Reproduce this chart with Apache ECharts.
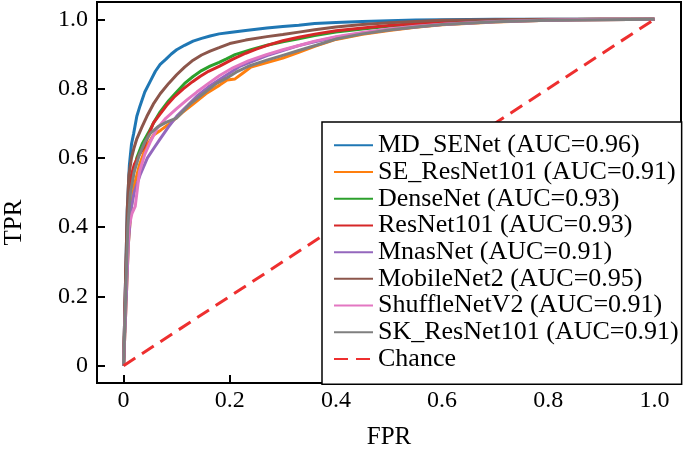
<!DOCTYPE html>
<html>
<head>
<meta charset="utf-8">
<script src="https://cdn.jsdelivr.net/npm/echarts@6/dist/echarts.min.js"></script>
<style>
html,body{margin:0;padding:0;background:#fff;}
#chart{width:685px;height:449px;}
</style>
</head>
<body>
<div id="chart"></div>
<script>
const tickValues = [0, 0.2, 0.4, 0.6, 0.8, 1.0];
const seriesNames = ['MD_SENet (AUC=0.96)', 'SE_ResNet101 (AUC=0.91)', 'DenseNet (AUC=0.93)', 'ResNet101 (AUC=0.93)', 'MnasNet (AUC=0.91)', 'MobileNet2 (AUC=0.95)', 'ShuffleNetV2 (AUC=0.91)', 'SK_ResNet101 (AUC=0.91)', 'Chance'];
const seriesColors = ['#1f77b4', '#ff7f0e', '#2ca02c', '#d62728', '#9467bd', '#8c564b', '#e377c2', '#7f7f7f', '#ee2f2f'];

const mdSENet = [[0,0],[0.003,0.2],[0.007,0.45],[0.011,0.58],[0.015,0.64],[0.019,0.67],[0.025,0.72],[0.031,0.75],[0.04,0.79],[0.05,0.82],[0.06,0.85],[0.069,0.87],[0.08,0.885],[0.09,0.9],[0.1,0.912],[0.115,0.925],[0.131,0.937],[0.147,0.945],[0.163,0.952],[0.18,0.958],[0.2,0.962],[0.23,0.968],[0.27,0.975],[0.3,0.979],[0.33,0.983],[0.36,0.988],[0.4,0.991],[0.45,0.994],[0.5,0.996],[0.55,0.998],[0.6,0.999],[0.7,1],[1,1]];
const seResNet101 = [[0,0],[0.004,0.15],[0.009,0.35],[0.014,0.45],[0.02,0.52],[0.03,0.58],[0.042,0.63],[0.056,0.665],[0.07,0.68],[0.088,0.7],[0.11,0.73],[0.131,0.755],[0.155,0.785],[0.181,0.81],[0.195,0.825],[0.21,0.828],[0.225,0.845],[0.24,0.862],[0.27,0.875],[0.3,0.888],[0.33,0.905],[0.36,0.922],[0.4,0.942],[0.45,0.957],[0.5,0.968],[0.55,0.977],[0.6,0.984],[0.7,0.992],[0.8,0.997],[0.9,0.999],[1,1]];
const denseNet = [[0,0],[0.004,0.2],[0.008,0.42],[0.012,0.5],[0.018,0.55],[0.025,0.6],[0.035,0.64],[0.047,0.673],[0.058,0.705],[0.069,0.733],[0.085,0.765],[0.1,0.79],[0.115,0.815],[0.131,0.835],[0.147,0.852],[0.163,0.865],[0.18,0.876],[0.194,0.886],[0.21,0.898],[0.24,0.912],[0.27,0.925],[0.3,0.935],[0.33,0.944],[0.36,0.953],[0.4,0.963],[0.45,0.972],[0.5,0.98],[0.55,0.986],[0.6,0.991],[0.7,0.996],[0.8,0.999],[0.9,1],[1,1]];
const resNet101 = [[0,0],[0.004,0.25],[0.008,0.45],[0.013,0.54],[0.02,0.58],[0.03,0.61],[0.038,0.63],[0.047,0.665],[0.056,0.7],[0.068,0.725],[0.081,0.751],[0.095,0.775],[0.113,0.8],[0.13,0.82],[0.144,0.835],[0.16,0.85],[0.181,0.865],[0.206,0.885],[0.23,0.902],[0.25,0.914],[0.275,0.927],[0.3,0.938],[0.33,0.948],[0.363,0.958],[0.4,0.967],[0.45,0.975],[0.5,0.982],[0.55,0.988],[0.6,0.992],[0.7,0.997],[0.8,0.999],[0.9,1],[1,1]];
const mnasNet = [[0,0],[0.004,0.15],[0.009,0.35],[0.014,0.45],[0.02,0.5],[0.031,0.55],[0.045,0.6],[0.058,0.63],[0.069,0.655],[0.085,0.69],[0.1,0.72],[0.12,0.75],[0.138,0.778],[0.16,0.805],[0.181,0.826],[0.2,0.845],[0.22,0.865],[0.245,0.88],[0.27,0.895],[0.3,0.91],[0.33,0.924],[0.36,0.935],[0.4,0.948],[0.45,0.96],[0.5,0.97],[0.55,0.978],[0.6,0.985],[0.7,0.993],[0.8,0.997],[0.9,0.999],[1,1]];
const mobileNet2 = [[0,0],[0.003,0.2],[0.007,0.45],[0.01,0.55],[0.015,0.6],[0.02,0.63],[0.025,0.655],[0.035,0.69],[0.044,0.72],[0.056,0.755],[0.069,0.785],[0.085,0.815],[0.1,0.84],[0.115,0.862],[0.131,0.882],[0.147,0.897],[0.163,0.908],[0.18,0.918],[0.2,0.93],[0.23,0.94],[0.27,0.95],[0.3,0.956],[0.33,0.963],[0.36,0.97],[0.4,0.978],[0.45,0.985],[0.5,0.99],[0.55,0.994],[0.6,0.997],[0.7,0.999],[0.8,1],[1,1]];
const shuffleNetV2 = [[0,0],[0.004,0.2],[0.01,0.4],[0.016,0.44],[0.022,0.46],[0.03,0.56],[0.04,0.61],[0.05,0.645],[0.063,0.684],[0.08,0.715],[0.1,0.742],[0.12,0.768],[0.138,0.79],[0.16,0.815],[0.181,0.838],[0.206,0.86],[0.235,0.88],[0.269,0.898],[0.3,0.912],[0.332,0.925],[0.36,0.937],[0.4,0.95],[0.45,0.962],[0.5,0.972],[0.55,0.98],[0.6,0.986],[0.7,0.994],[0.8,0.998],[0.9,1],[1,1]];
const skResNet101 = [[0,0],[0.004,0.2],[0.008,0.4],[0.013,0.5],[0.02,0.56],[0.03,0.61],[0.04,0.645],[0.05,0.67],[0.065,0.69],[0.081,0.703],[0.1,0.715],[0.125,0.755],[0.15,0.785],[0.175,0.815],[0.194,0.83],[0.215,0.85],[0.238,0.866],[0.27,0.882],[0.3,0.896],[0.33,0.91],[0.363,0.925],[0.4,0.943],[0.45,0.958],[0.5,0.969],[0.55,0.978],[0.6,0.985],[0.7,0.993],[0.8,0.997],[0.9,0.999],[1,1]];
const chance = [[0,0],[1,1]];

const seriesData = [mdSENet, seResNet101, denseNet, resNet101, mnasNet, mobileNet2, shuffleNetV2, skResNet101, chance];

const FONT = "'Liberation Serif', 'Times New Roman', serif";
const fmt = v => (Math.abs(v) < 1e-9 ? '0' : v.toFixed(1));

const chart = echarts.init(document.getElementById('chart'), null, {renderer: 'canvas'});

const series = seriesNames.map((name, i) => ({
  name: name,
  type: 'line',
  data: seriesData[i],
  symbol: 'none',
  smooth: false,
  animation: false,
  color: seriesColors[i],
  lineStyle: {
    color: seriesColors[i],
    width: 3,
    type: name === 'Chance' ? [14, 8] : 'solid'
  },
  z: 2 + i * 0.01
}));

chart.setOption({
  backgroundColor: '#fff',
  animation: false,
  grid: {left: 97, right: 4, top: 2, bottom: 66, containLabel: false, outerBoundsMode: 'none', show: true, borderColor: '#000', borderWidth: 2, backgroundColor: 'transparent'},
  xAxis: {
    type: 'value', min: -0.05, max: 1.05,
    name: 'FPR', nameLocation: 'middle', nameGap: 42,
    nameTextStyle: {fontFamily: FONT, fontSize: 25, color: '#000'},
    axisLine: {show: true, onZero: false, lineStyle: {color: '#000', width: 2}},
    axisTick: {show: true, inside: true, length: 8, customValues: tickValues, lineStyle: {color: '#000', width: 2}},
    axisLabel: {customValues: tickValues, formatter: fmt, fontFamily: FONT, fontSize: 24, color: '#000', margin: 6},
    splitLine: {show: false}
  },
  yAxis: {
    type: 'value', min: -0.05, max: 1.05,
    name: 'TPR', nameLocation: 'middle', nameGap: 70, nameRotate: 90,
    nameTextStyle: {fontFamily: FONT, fontSize: 25, color: '#000', padding: [0, 60, 0, 0]},
    axisLine: {show: true, onZero: false, lineStyle: {color: '#000', width: 2}},
    axisTick: {show: true, inside: true, length: 8, customValues: tickValues, lineStyle: {color: '#000', width: 2}},
    axisLabel: {customValues: tickValues, formatter: fmt, fontFamily: FONT, fontSize: 24, color: '#000', margin: 9},
    splitLine: {show: false}
  },
  legend: {
    orient: 'vertical', left: 322, top: 122,
    padding: [10, 3, 12, 11], itemGap: 0, itemWidth: 39, itemHeight: 14, itemTextGap: 6,
    backgroundColor: '#fff', borderColor: '#000', borderWidth: 1.5, borderRadius: 0,
    itemStyle: {opacity: 0},
    textStyle: {fontFamily: FONT, fontSize: 26, lineHeight: 26.7, color: '#000'},
    data: seriesNames
  },
  series: series
});
</script>
</body>
</html>
